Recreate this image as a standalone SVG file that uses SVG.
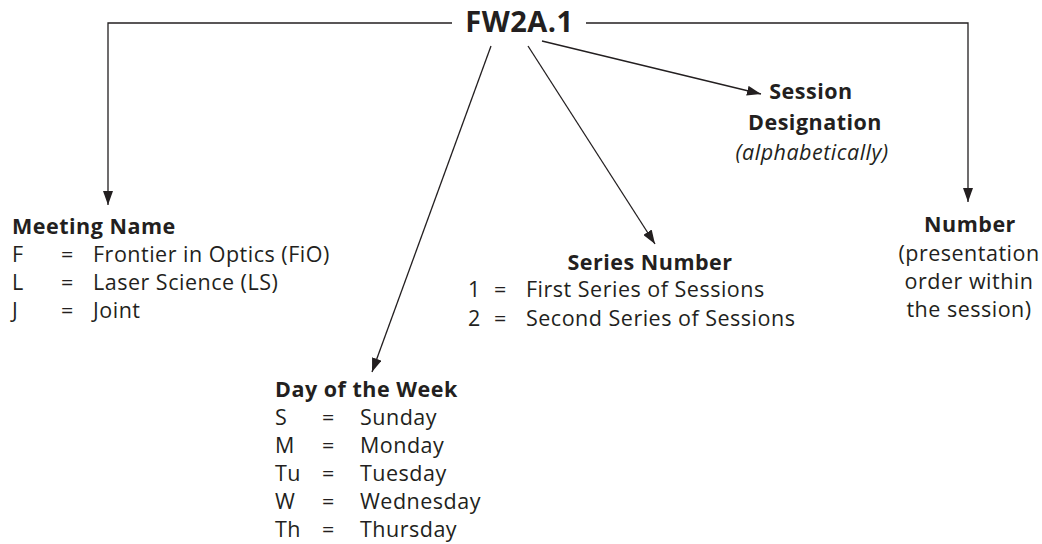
<svg xmlns="http://www.w3.org/2000/svg" width="1042" height="544" viewBox="0 0 1042 544">
<style>
text{font-family:"Open Sans","Noto Sans","Liberation Sans",sans-serif;fill:#231f20;letter-spacing:0.5px}
.h{font-weight:bold;font-size:21.5px}
.b{font-size:21.5px}
.c{text-anchor:middle}
.conn{stroke:#231f20;stroke-width:1.3;fill:none}
</style>
<defs>
<marker id="ah" viewBox="0 0 14 10" refX="14" refY="5" markerWidth="14" markerHeight="10" markerUnits="userSpaceOnUse" orient="auto">
<path d="M0,0 L14,5 L0,10 Z" fill="#231f20"/>
</marker>
</defs>
<g id="connectors">
<path class="conn" d="M452,23 H108 V205" marker-end="url(#ah)"/>
<path class="conn" d="M586,23 H968 V202" marker-end="url(#ah)"/>
<path class="conn" d="M491,46 L372,372" marker-end="url(#ah)"/>
<path class="conn" d="M528,46 L655,244" marker-end="url(#ah)"/>
<path class="conn" d="M542,41 L761,94" marker-end="url(#ah)"/>
</g>
<g id="root"><text x="519.5" y="32" class="c" style="font-weight:bold;font-size:29px">FW2A.1</text></g>
<g id="session">
<text x="811" y="99" class="c h">Session</text>
<text x="815" y="130" class="c h">Designation</text>
<text x="812" y="160" class="c b" font-style="italic">(alphabetically)</text>
</g>
<g id="meeting">
<text x="12" y="234" class="h">Meeting Name</text>
<text x="12" y="262" class="b">F</text><text x="61" y="262" class="b">=</text><text x="93" y="262" class="b">Frontier in Optics (FiO)</text>
<text x="12" y="290" class="b">L</text><text x="61" y="290" class="b">=</text><text x="93" y="290" class="b">Laser Science (LS)</text>
<text x="12" y="318" class="b">J</text><text x="61" y="318" class="b">=</text><text x="93" y="318" class="b">Joint</text>
</g>
<g id="series">
<text x="650" y="270" class="c h">Series Number</text>
<text x="468" y="297" class="b">1</text><text x="494" y="297" class="b">=</text><text x="526" y="297" class="b">First Series of Sessions</text>
<text x="468" y="326" class="b">2</text><text x="494" y="326" class="b">=</text><text x="526" y="326" class="b">Second Series of Sessions</text>
</g>
<g id="number">
<text x="970" y="232" class="c h">Number</text>
<text x="969" y="261" class="c b">(presentation</text>
<text x="969" y="289" class="c b">order within</text>
<text x="969" y="317" class="c b">the session)</text>
</g>
<g id="day">
<text x="275" y="397" class="h">Day of the Week</text>
<text x="275" y="425" class="b">S</text><text x="322" y="425" class="b">=</text><text x="360" y="425" class="b">Sunday</text>
<text x="275" y="453" class="b">M</text><text x="322" y="453" class="b">=</text><text x="360" y="453" class="b">Monday</text>
<text x="275" y="481" class="b">Tu</text><text x="322" y="481" class="b">=</text><text x="360" y="481" class="b">Tuesday</text>
<text x="275" y="509" class="b">W</text><text x="322" y="509" class="b">=</text><text x="360" y="509" class="b">Wednesday</text>
<text x="275" y="537" class="b">Th</text><text x="322" y="537" class="b">=</text><text x="360" y="537" class="b">Thursday</text>
</g>
</svg>
